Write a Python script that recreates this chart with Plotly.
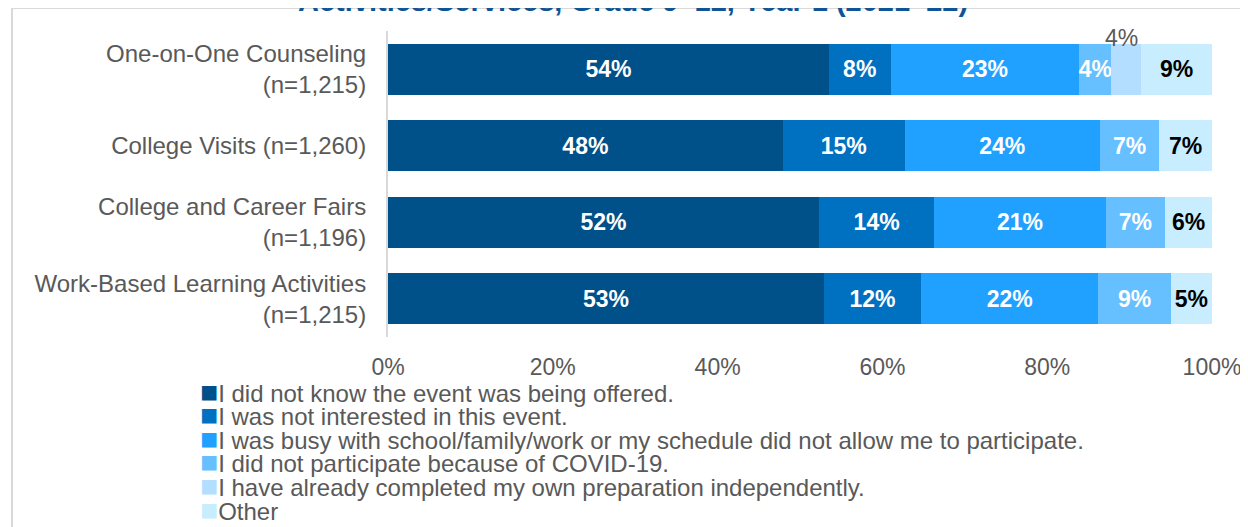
import plotly.graph_objects as go

categories = [
    "One-on-One Counseling<br>(n=1,215)",
    "College Visits (n=1,260)",
    "College and Career Fairs<br>(n=1,196)",
    "Work-Based Learning Activities<br>(n=1,215)",
]

series_names = [
    "I did not know the event was being offered.",
    "I was not interested in this event.",
    "I was busy with school/family/work or my schedule did not allow me to participate.",
    "I did not participate because of COVID-19.",
    "I have already completed my own preparation independently.",
    "Other",
]

# bar widths (share of students, %)
not_know = [53.5, 47.9, 52.3, 52.9]
not_interested = [7.5, 14.8, 14.0, 11.8]
busy = [22.9, 23.7, 20.8, 21.5]
covid = [3.9, 7.2, 7.2, 8.8]
completed = [3.6, 0, 0, 0]
other = [8.6, 6.4, 5.7, 5.0]

# printed labels
not_know_lbl = [54, 48, 52, 53]
not_interested_lbl = [8, 15, 14, 12]
busy_lbl = [23, 24, 21, 22]
covid_lbl = [4, 7, 7, 9]
completed_lbl = [4, None, None, None]
other_lbl = [9, 7, 6, 5]

x_ticks = [0, 20, 40, 60, 80, 100]
x_ticktext = ["0%", "20%", "40%", "60%", "80%", "100%"]

colors = ["#00508A", "#0070C0", "#21A1FF", "#66BFFF", "#B3DEFF", "#C7EDFF"]
text_colors = ["white", "white", "white", "white", "white", "black"]

values = [not_know, not_interested, busy, covid, completed, other]
labels = [not_know_lbl, not_interested_lbl, busy_lbl, covid_lbl, completed_lbl, other_lbl]

FONT = "Liberation Sans, Arial, sans-serif"
GREY = "#595959"

fig = go.Figure()
for i, name in enumerate(series_names):
    txt = []
    for v in labels[i]:
        txt.append("" if v is None or i == 4 else "<b>%d%%</b>" % v)
    fig.add_trace(go.Bar(
        y=categories,
        x=values[i],
        orientation="h",
        name=name,
        marker=dict(color=colors[i], line=dict(width=0)),
        text=txt,
        textposition="inside",
        insidetextanchor="middle",
        textangle=0,
        constraintext="none",
        textfont=dict(family=FONT, size=23, color=text_colors[i]),
        showlegend=False,
    ))

# page geometry: the figure sits 8px in from the top-left of the window
W, H = 1248, 527
OFF = 8
PL, PR, PT, PB = 388, 1212, 31, 337   # plot area on screen


def py(ypx):
    return (PB - ypx) / (PB - PT)


def px(xpx):
    return (xpx - PL) / (PR - PL)


annotations = []
# outside label for the small "already completed" segment
for j, v in enumerate(completed_lbl):
    if v is None:
        continue
    xmid = not_know[j] + not_interested[j] + busy[j] + covid[j] + completed[j] / 2
    annotations.append(dict(
        x=xmid, y=categories[j], xref="x", yref="y",
        text="%d%%" % v, showarrow=False, yshift=31, xshift=-5,
        font=dict(family=FONT, size=23, color=GREY),
    ))

# legend drawn as tight text rows
for i, name in enumerate(series_names):
    annotations.append(dict(
        x=px(198), y=py(391 + i * 23.6), xref="paper", yref="paper",
        xanchor="left", yanchor="middle", showarrow=False,
        text='<span style="color:%s;font-size:30px">■</span>%s' % (colors[i], name),
        font=dict(family=FONT, size=24, color=GREY),
    ))

# title, cut off by the top edge in the reference
annotations.append(dict(
    x=px(633), y=py(19), xref="paper", yref="paper",
    xanchor="center", yanchor="bottom", showarrow=False,
    text="<b>Activities/Services, Grade 9–12, Year 1 (2021–22)</b>",
    font=dict(family=FONT, size=29, color="#0F5595"),
))

fig.update_layout(
    width=W, height=H,
    margin=dict(l=PL - OFF, r=W - (PR - OFF), t=PT - OFF, b=H - (PB - OFF)),
    barmode="stack",
    bargap=0.335,
    paper_bgcolor="white",
    plot_bgcolor="white",
    font=dict(family=FONT, size=23, color=GREY),
    annotations=annotations,
    shapes=[
        dict(type="line", xref="paper", yref="paper", layer="below",
             x0=px(12), x1=px(W + 20), y0=py(8), y1=py(8),
             line=dict(color="#D9D9D9", width=2)),
        dict(type="line", xref="paper", yref="paper", layer="below",
             x0=px(12), x1=px(12), y0=py(8), y1=py(H + 20),
             line=dict(color="#D9D9D9", width=2)),
    ],
)
fig.update_xaxes(
    range=[0, 100], tickvals=x_ticks, ticktext=x_ticktext,
    showgrid=False, zeroline=False, showline=False, ticks="",
    tickfont=dict(family=FONT, size=23, color=GREY),
    ticklabelstandoff=14,
)
fig.update_yaxes(
    autorange="reversed", showgrid=False, zeroline=False,
    showline=True, linecolor="#D9D9D9", linewidth=2, ticks="",
    tickfont=dict(family=FONT, size=24, color=GREY),
    ticklabelstandoff=15,
)

fig.write_html("out.html")
